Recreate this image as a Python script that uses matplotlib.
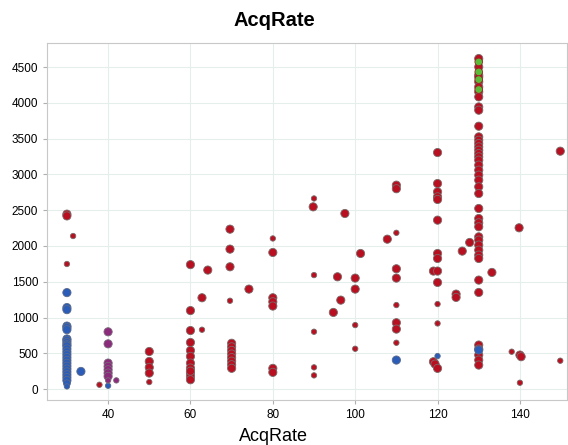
import matplotlib.pyplot as plt

plt.rcParams["font.family"] = ["Liberation Sans", "DejaVu Sans"]

# red points: (AcqRate, value, weight)  weight 1 = small, 3 = large
red_x = [30, 30, 31.5, 30, 37.9, 50, 50, 50, 50, 50,
         60, 60, 60, 60, 60, 60, 60, 60, 60, 60, 60, 60,
         62.8, 62.8, 64.2,
         69.6, 69.6, 69.6, 69.6, 70, 70, 70, 70, 70, 70, 70, 70,
         74.2, 80, 80, 80, 80, 80, 80, 80,
         90, 89.8, 90, 90, 90, 90,
         97.5, 95.7, 96.5, 94.7, 100, 100, 100, 100, 101.3, 107.8,
         110, 110, 110, 110, 110, 110, 110, 110, 110,
         120, 120, 120, 120, 120, 120, 120, 120, 119, 120, 120, 120, 120, 119, 119.4, 120,
         124.5, 124.5, 126, 127.8,
         130, 130, 130, 130, 130, 130, 130, 130, 130, 130, 130,
         130, 130, 130, 130, 130, 130, 130, 130, 130, 130, 130, 130, 130, 130,
         130, 130, 130, 130, 130, 130, 130, 130, 130, 130, 130, 130, 130,
         130, 130, 130, 130,
         133.2, 138, 140, 140.3, 140, 139.8, 149.8, 149.8]
red_y = [2445, 2420, 2139, 1748, 60, 525, 386, 302, 223, 98,
         1739, 1097, 818, 651, 539, 456, 363, 293, 223, 177, 130, 250,
         1276, 829, 1663,
         2235, 1956, 1709, 1234, 640, 590, 540, 490, 440, 390, 340, 290,
         1397, 2105, 1909, 1276, 1220, 1160, 289, 233,
         2664, 2547, 1593, 801, 303, 191,
         2454, 1569, 1243, 1071, 1551, 1397, 894, 563, 1895, 2095,
         2850, 2800, 2184, 1681, 1551, 1174, 927, 838, 647,
         3306, 2873, 2757, 2687, 2650, 2361, 1895, 1825, 1649, 1649, 1490, 1188, 917, 382, 349, 289,
         1327, 1281, 1928, 2049,
         4620, 4503, 4387, 4364, 4294, 4224, 4154, 4084, 3944, 3898, 3674,
         3525, 3478, 3432, 3385, 3339, 3292, 3246, 3199, 3130, 3060, 2990, 2920, 2827, 2733,
         2524, 2384, 2324, 2268, 2128, 2082, 2012, 1942, 1872, 1825, 1523, 1350, 615,
         475, 405, 335, 560,
         1630, 522, 475, 452, 88, 2254, 3325, 396]
red_w = [3, 3, 1, 1, 1, 3, 3, 3, 3, 1,
         3, 3, 3, 3, 3, 3, 3, 3, 3, 3, 3, 3,
         3, 1, 3,
         3, 3, 3, 1, 3, 3, 3, 3, 3, 3, 3, 3,
         3, 1, 3, 3, 3, 3, 3, 3,
         1, 3, 1, 1, 1, 1,
         3, 3, 3, 3, 3, 3, 1, 1, 3, 3,
         3, 3, 1, 3, 3, 1, 3, 3, 1,
         3, 3, 3, 3, 3, 3, 3, 3, 3, 3, 3, 1, 1, 3, 3, 3,
         3, 3, 3, 3,
         3, 3, 3, 3, 3, 3, 3, 3, 3, 3, 3,
         3, 3, 3, 3, 3, 3, 3, 3, 3, 3, 3, 3, 3, 3,
         3, 3, 3, 3, 3, 3, 3, 3, 3, 3, 3, 3, 3,
         3, 3, 3, 3,
         3, 1, 3, 3, 1, 3, 3, 1]

blue_x = [30, 30, 30, 30, 30, 30, 30, 30, 30, 30, 30, 30, 30, 30, 30,
          30, 30, 30, 30, 30, 30, 30, 30, 30, 30, 33.4, 40, 110, 120, 130]
blue_y = [1348, 1139, 1110, 880, 860, 830, 700, 680, 650, 620, 600, 560, 520,
          480, 440, 400, 360, 320, 280, 240, 200, 160, 120, 80, 37, 246, 46, 405, 461, 545]
blue_w = [3, 3, 3, 3, 3, 3, 3, 3, 3, 3, 3, 3, 3,
          3, 3, 3, 3, 3, 3, 3, 3, 3, 3, 2, 1, 3, 1, 3, 1, 3]

purple_x = [40, 40, 40, 40, 40, 40, 40, 40, 42]
purple_y = [800, 632, 363, 316, 270, 223, 177, 121, 121]
purple_w = [3, 3, 3, 3, 3, 3, 3, 1, 1]

green_x = [130, 130, 130, 130]
green_y = [4573, 4433, 4326, 4187]
green_w = [2.5, 2.5, 2.5, 2.5]

x_ticks = [40, 60, 80, 100, 120, 140]
y_ticks = [0, 500, 1000, 1500, 2000, 2500, 3000, 3500, 4000, 4500]


def marker_size(weights):
    return [5 + 10 * w for w in weights]


figure = plt.figure(figsize=(5.68, 4.45), dpi=100)
axis = figure.add_axes([0.083, 0.101, 0.915, 0.802])

groups = [
    (red_x, red_y, red_w, "#b81020", "#7a6a6a"),
    (blue_x, blue_y, blue_w, "#2a5cb8", "#5a6a8a"),
    (purple_x, purple_y, purple_w, "#8c2a7c", "#7a6a7a"),
    (green_x, green_y, green_w, "#5cbc3a", "#a02020"),
]
for gx, gy, gw, color, edge in groups:
    axis.scatter(gx, gy, s=marker_size(gw), c=color, edgecolors=edge,
                 linewidths=0.6, zorder=3)

axis.set_xlim(25.2, 151.4)
axis.set_ylim(-154, 4835)
axis.set_xticks(x_ticks)
axis.set_yticks(y_ticks)
axis.grid(True, color="#e4eeea", linewidth=0.8, zorder=0)
for spine in axis.spines.values():
    spine.set_color("#c8c8c8")
axis.tick_params(axis="both", labelsize=8.5, color="#b0b0b0", length=3)

figure.text(0.483, 0.942, "AcqRate", fontsize=14.5, fontweight="bold",
            ha="center", va="baseline")
figure.text(0.481, 0.01, "AcqRate", fontsize=13, ha="center", va="baseline")

figure.savefig("out.png", dpi=100)
plt.close(figure)
